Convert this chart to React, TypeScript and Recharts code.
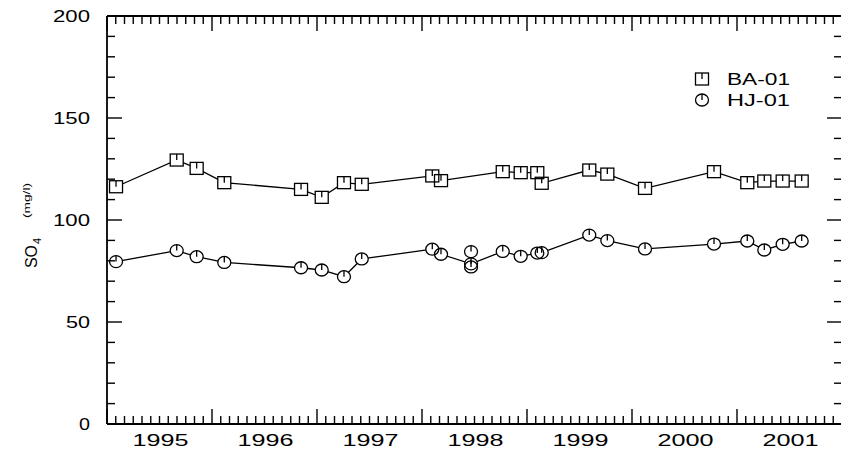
import { LineChart, Line, XAxis, YAxis, ReferenceLine } from "recharts";

// sample dates as decimal years
const baDates = [
  1995.086, 1995.664, 1995.854, 1996.117, 1996.848, 1997.045, 1997.257, 1997.426,
  1998.098, 1998.181, 1998.769, 1998.94, 1999.098, 1999.14, 1999.593, 1999.765,
  2000.124, 2000.781, 2001.098, 2001.26, 2001.435, 2001.616,
];
const baValues = [
  116.3, 129.4, 125.3, 118.3, 115.0, 111.1, 118.3, 117.5, 121.6, 119.3, 123.7,
  123.2, 123.2, 118.0, 124.5, 122.5, 115.5, 123.7, 118.3, 119.1, 119.1, 119.1,
];

const hjDates = [
  1995.086, 1995.664, 1995.854, 1996.117, 1996.848, 1997.045, 1997.257, 1997.426,
  1998.098, 1998.181, 1998.467, 1998.769, 1998.94, 1999.098, 1999.14, 1999.593,
  1999.765, 2000.124, 2000.781, 2001.098, 2001.26, 2001.435, 2001.616,
];
const hjValues = [
  79.6, 85.0, 82.0, 79.2, 76.6, 75.5, 72.2, 80.9, 85.7, 83.2, 78.5, 84.6, 82.2,
  83.8, 84.0, 92.6, 89.9, 85.8, 88.2, 89.7, 85.3, 88.1, 89.7,
];

// repeat samples on the same day, not joined by the line
const hjExtraDates = [1998.467, 1998.467];
const hjExtraValues = [84.5, 77.0];

const yearLabels = ["1995", "1996", "1997", "1998", "1999", "2000", "2001"];
const firstYear = 1995;
const lastYear = 2002;
const yMax = 200;
const yLabelValues = [0, 50, 100, 150, 200];
const seriesNames = ["BA-01", "HJ-01"];

const baData = baDates.map((t, i) => ({ t, v: baValues[i] }));
const hjData = hjDates.map((t, i) => ({ t, v: hjValues[i] }));
const hjExtra = hjExtraDates.map((t, i) => ({ t, v: hjExtraValues[i] }));

const monthTicks: number[] = [];
for (let k = 0; k <= (lastYear - firstYear) * 12; k++) monthTicks.push(firstYear + k / 12);
const yTicks: number[] = [];
for (let v = 0; v <= yMax; v += 10) yTicks.push(v);

// frame of the plot box (chart margins below give these)
const BOX = { left: 107, right: 842, top: 16, bottom: 424 };
const MAJOR = 15;
const MINOR = 8;

const FONT = "'Liberation Sans', Arial, sans-serif";
const INK = "#000";

const isYear = (v: number) => Math.abs(v - Math.round(v)) < 1e-4;
const isMidYear = (v: number) => Math.abs(v - Math.floor(v) - 0.5) < 1e-4;

// draws the tick marks on bottom and top edges, and the year labels
const xTick = (props: any) => {
  const { x, payload } = props;
  const v = payload.value;
  const len = isYear(v) ? MAJOR : MINOR;
  return (
    <g>
      <line x1={x} y1={BOX.bottom} x2={x} y2={BOX.bottom - len} stroke={INK} strokeWidth={1.4} />
      <line x1={x} y1={BOX.top} x2={x} y2={BOX.top + len} stroke={INK} strokeWidth={1.4} />
      {isMidYear(v) && (
        <text x={x + 1} y={BOX.bottom + 22} textAnchor="middle" fontFamily={FONT} fontSize={16} fill={INK}
          textLength={56} lengthAdjust="spacingAndGlyphs">
          {yearLabels[Math.floor(v) - firstYear]}
        </text>
      )}
    </g>
  );
};

// tick marks on left and right edges, plus the value labels
const yTick = (props: any) => {
  const { y, payload } = props;
  const v = payload.value;
  const major = yLabelValues.includes(v);
  const len = major ? MAJOR : MINOR;
  const s = String(v);
  return (
    <g>
      <line x1={BOX.left} y1={y} x2={BOX.left + len} y2={y} stroke={INK} strokeWidth={1.4} />
      <line x1={BOX.right} y1={y} x2={BOX.right - len} y2={y} stroke={INK} strokeWidth={1.4} />
      {major && (
        <text x={BOX.left - 17} y={y + 6} textAnchor="end" fontFamily={FONT} fontSize={16} fill={INK}
          textLength={s.length === 1 ? 11 : s.length * 13 - 2} lengthAdjust="spacingAndGlyphs">
          {s}
        </text>
      )}
    </g>
  );
};

const Square = ({ cx, cy, fill, outline }: any) => (
  <g>
    <rect x={cx - 6.5} y={cy - 6} width={13} height={12} fill={fill} stroke={outline ? INK : "none"} strokeWidth={1.3} />
    {outline && <line x1={cx} y1={cy - 6} x2={cx} y2={cy} stroke={INK} strokeWidth={1.3} />}
  </g>
);

const Circle = ({ cx, cy, fill, outline }: any) => (
  <g>
    <ellipse cx={cx} cy={cy} rx={6.5} ry={6} fill={fill} stroke={outline ? INK : "none"} strokeWidth={1.3} />
    {outline && <line x1={cx} y1={cy - 6} x2={cx} y2={cy} stroke={INK} strokeWidth={1.3} />}
  </g>
);

const maskDot = (Shape: any) => (p: any) =>
  p.cx == null ? <g key={p.index} /> : <Shape key={p.index} cx={p.cx} cy={p.cy} fill="#fff" outline={false} />;
const outlineDot = (Shape: any) => (p: any) =>
  p.cx == null ? <g key={p.index} /> : <Shape key={p.index} cx={p.cx} cy={p.cy} fill="none" outline />;

export default function App() {
  const common = { dataKey: "v", isAnimationActive: false, activeDot: false } as const;
  const frame = { stroke: INK, strokeWidth: 1.8 };
  return (
    <div style={{ position: "absolute", left: 0, top: 0, width: 841, height: 459, overflow: "hidden", background: "#fff" }}>
      <LineChart width={845} height={459} margin={{ top: 16, right: 3, bottom: 0, left: 0 }}>
        <XAxis dataKey="t" type="number" domain={[firstYear, lastYear]} ticks={monthTicks}
          interval={0} orientation="bottom" height={35} tickSize={0} tickMargin={0} tickLine={false}
          tick={xTick} axisLine={frame} allowDataOverflow />
        <YAxis type="number" domain={[0, yMax]} ticks={yTicks} interval={0} width={107}
          tickSize={0} tickMargin={0} tickLine={false} tick={yTick} axisLine={frame} />

        {/* top and right edges of the frame */}
        <ReferenceLine y={yMax} stroke={INK} strokeWidth={1.8} ifOverflow="visible" />
        <ReferenceLine x={lastYear} stroke={INK} strokeWidth={1.8} ifOverflow="visible" />

        <Line {...common} data={baData} stroke={INK} strokeWidth={1.3} dot={false} />
        <Line {...common} data={hjData} stroke={INK} strokeWidth={1.3} dot={false} />

        <Line {...common} data={baData} stroke="none" dot={maskDot(Square)} />
        <Line {...common} data={hjData} stroke="none" dot={maskDot(Circle)} />
        <Line {...common} data={hjExtra} stroke="none" dot={maskDot(Circle)} />

        <Line {...common} data={baData} stroke="none" dot={outlineDot(Square)} />
        <Line {...common} data={hjData} stroke="none" dot={outlineDot(Circle)} />
        <Line {...common} data={hjExtra} stroke="none" dot={outlineDot(Circle)} />
      </LineChart>

      <svg width={841} height={459} style={{ position: "absolute", left: 0, top: 0, pointerEvents: "none" }}>
        {/* legend */}
        <Square cx={702} cy={79} fill="none" outline />
        <text x={727} y={84.5} fontFamily={FONT} fontSize={16} fill={INK} textLength={63} lengthAdjust="spacingAndGlyphs">
          {seriesNames[0]}
        </text>
        <Circle cx={702} cy={100} fill="none" outline />
        <text x={727} y={105.5} fontFamily={FONT} fontSize={16} fill={INK} textLength={63} lengthAdjust="spacingAndGlyphs">
          {seriesNames[1]}
        </text>

        {/* y axis title */}
        <g transform="rotate(-90 37 268)">
          <text x={37} y={268} fontFamily={FONT} fontSize={16} fill={INK}>
            <tspan textLength={23} lengthAdjust="spacingAndGlyphs">SO</tspan>
            <tspan dx={1} dy={4} fontSize={11}>4</tspan>
          </text>
        </g>
        <g transform="rotate(-90 30 218)">
          <text x={30} y={218} fontFamily={FONT} fontSize={9} fill={INK} textLength={35} lengthAdjust="spacingAndGlyphs">
            (mg/l)
          </text>
        </g>
      </svg>
    </div>
  );
}
